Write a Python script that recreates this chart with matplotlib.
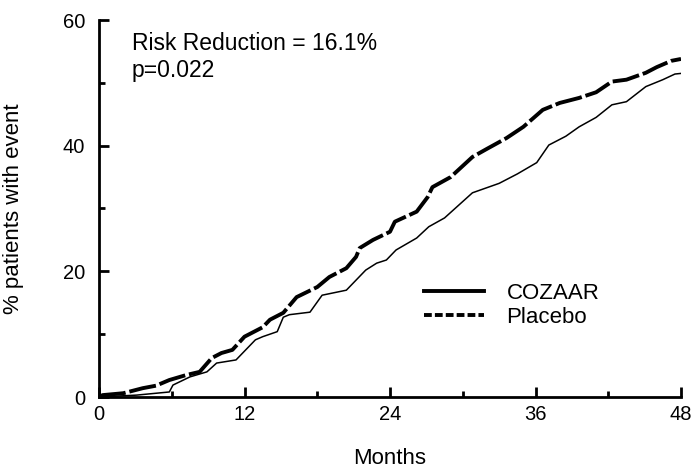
import matplotlib
matplotlib.use('Agg')
import matplotlib.pyplot as plt
from matplotlib.lines import Line2D
from matplotlib.ticker import MultipleLocator

plt.rcParams['font.family'] = ['Liberation Sans', 'DejaVu Sans']

# upper curve (Placebo), months / % patients with event
placebo_months = [0, 0.3, 2, 2.8, 3.6, 4.7, 5.8, 7.2, 8.3, 9.3, 10.1, 11, 12,
                  13.5, 14.1, 15.2, 16.3, 18, 19, 20.4, 21.2, 21.5, 22.6, 24,
                  24.4, 26.2, 27.1, 27.5, 29, 30.8, 32, 33.6, 35, 36.6, 38,
                  39.6, 41, 42.3, 43.5, 45.1, 46, 47.2, 48]
placebo_pct = [0, 0.3, 0.6, 1.0, 1.4, 1.8, 2.7, 3.5, 4.0, 6.2, 7.0, 7.5, 9.6,
               11.1, 12.3, 13.4, 15.9, 17.5, 19.1, 20.5, 22.3, 23.7, 25.0, 26.3,
               27.9, 29.5, 31.8, 33.4, 35.0, 38.2, 39.5, 41.2, 43.0, 45.7, 46.8,
               47.6, 48.5, 50.2, 50.5, 51.6, 52.5, 53.5, 53.8]

# lower curve (COZAAR)
cozaar_months = [0, 3.1, 5.8, 6.1, 7.5, 8.9, 9.7, 11.3, 12.1, 12.9, 13.5, 14.7,
                 15.2, 15.7, 17.4, 18.4, 20.4, 21.2, 22, 22.9, 23.7, 24.5, 26.2,
                 27.2, 28.5, 30.8, 33, 34.5, 36.1, 37.1, 38.5, 39.6, 41, 42.3,
                 43.5, 45.1, 46.5, 47.5, 48]
cozaar_pct = [0, 0.3, 0.8, 1.9, 3.2, 4.0, 5.4, 5.9, 7.5, 9.1, 9.6, 10.4, 12.7,
              13.1, 13.5, 16.2, 17.0, 18.6, 20.2, 21.3, 21.8, 23.4, 25.3, 27.1,
              28.5, 32.5, 34.0, 35.5, 37.3, 40.1, 41.5, 43.0, 44.5, 46.5, 47.0,
              49.4, 50.5, 51.4, 51.5]

W, H = 692, 469
fig = plt.figure(figsize=(W / 100, H / 100), dpi=100)
ax = fig.add_axes([99 / W, (H - 397) / H, (681 - 99) / W, (397 - 20) / H])

dash = (0, (7, 1.0))
ax.plot(placebo_months, placebo_pct, color='black', linewidth=2.8,
        linestyle=dash, solid_joinstyle='miter')
ax.plot(cozaar_months, cozaar_pct, color='black', linewidth=1.1)

ax.set_xlim(0, 48)
ax.set_ylim(0, 60)
ax.xaxis.set_major_locator(MultipleLocator(12))
ax.xaxis.set_minor_locator(MultipleLocator(6))
ax.yaxis.set_major_locator(MultipleLocator(20))
ax.yaxis.set_minor_locator(MultipleLocator(10))
ax.tick_params(which='major', direction='in', length=7, width=2,
               labelsize=14.5, colors='black')
ax.tick_params(axis='y', which='major', pad=10)
ax.tick_params(axis='x', which='major', pad=6)
ax.tick_params(which='minor', direction='in', length=4, width=2)
for s in ['top', 'right']:
    ax.spines[s].set_visible(False)
for s in ['left', 'bottom']:
    ax.spines[s].set_linewidth(2)

ax.set_xlabel('Months', fontsize=16)
ax.xaxis.set_label_coords(0.5, -(448 - 397) / (397 - 20))
ax.set_ylabel('% patients with event', fontsize=16)
ax.yaxis.set_label_coords(-(99 - 24) / (681 - 99), 0.5)

ax.text(0.056, 0.937, 'Risk Reduction = 16.1%', transform=ax.transAxes,
        fontsize=16.5, va='center')
ax.text(0.056, 0.865, 'p=0.022', transform=ax.transAxes,
        fontsize=16.5, va='center')

handles = [Line2D([], [], color='black', linewidth=2.8),
           Line2D([], [], color='black', linewidth=2.8, linestyle=(0, (2, 0.8)))]
ax.legend(handles, ['COZAAR', 'Placebo'], loc='center left',
          bbox_to_anchor=(0.559, 0.243), frameon=False, fontsize=16,
          handlelength=2.7, handletextpad=1.0, labelspacing=0.15,
          borderpad=0, borderaxespad=0)

fig.savefig('out.png', dpi=100)
